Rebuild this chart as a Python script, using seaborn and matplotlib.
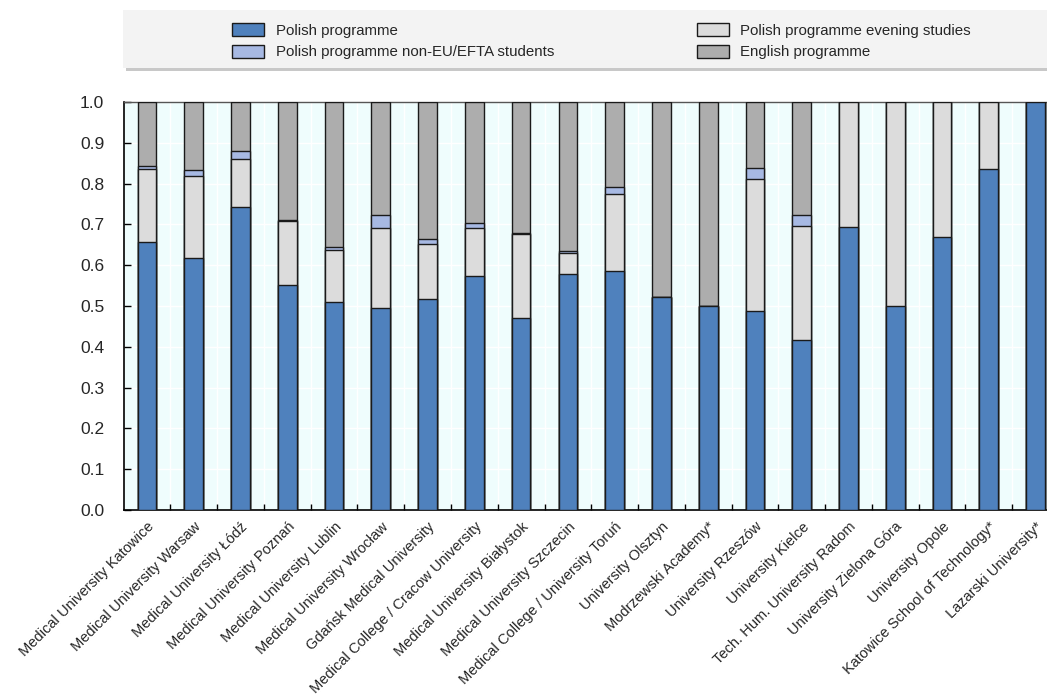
import numpy as np
import pandas as pd
import seaborn as sns
import matplotlib.pyplot as plt
from matplotlib.patches import Patch, Rectangle

universities = ['Medical University Katowice', 'Medical University Warsaw', 'Medical University Łódź',
                'Medical University Poznań', 'Medical University Lublin', 'Medical University Wrocław',
                'Gdańsk Medical University', 'Medical College / Cracow University',
                'Medical University Białystok', 'Medical University Szczecin',
                'Medical College / University Toruń', 'University Olsztyn', 'Modrzewski Academy*',
                'University Rzeszów', 'University Kielce', 'Tech. Hum. University Radom',
                'University Zielona Góra', 'University Opole', 'Katowice School of Technology*',
                'Lazarski University*']
polish = [0.656, 0.617, 0.743, 0.551, 0.510, 0.495, 0.517, 0.574, 0.470, 0.578,
          0.587, 0.522, 0.500, 0.488, 0.417, 0.694, 0.500, 0.668, 0.835, 1.0]
evening = [0.180, 0.202, 0.117, 0.157, 0.127, 0.197, 0.135, 0.116, 0.206, 0.051,
           0.188, 0.0, 0.0, 0.323, 0.279, 0.306, 0.500, 0.332, 0.165, 0.0]
non_eu = [0.008, 0.014, 0.019, 0.002, 0.008, 0.030, 0.012, 0.014, 0.004, 0.007,
          0.016, 0.0, 0.0, 0.028, 0.027, 0.0, 0.0, 0.0, 0.0, 0.0]
english = [0.156, 0.167, 0.121, 0.290, 0.355, 0.278, 0.336, 0.296, 0.320, 0.364,
           0.209, 0.478, 0.500, 0.161, 0.277, 0.0, 0.0, 0.0, 0.0, 0.0]

series = ['Polish programme', 'Polish programme non-EU/EFTA students',
          'Polish programme evening studies', 'English programme']
colors = {'Polish programme': '#4f81bd',
          'Polish programme non-EU/EFTA students': '#a7b9e3',
          'Polish programme evening studies': '#dcdcdc',
          'English programme': '#adadad'}

df = pd.DataFrame({'uni': universities, 'Polish programme': polish,
                   'Polish programme evening studies': evening,
                   'Polish programme non-EU/EFTA students': non_eu,
                   'English programme': english})
# stacking order bottom -> top
stack = ['Polish programme', 'Polish programme evening studies',
         'Polish programme non-EU/EFTA students', 'English programme']
cum = df[stack].cumsum(axis=1)

sns.set_theme(style='white')
plt.rcParams['font.family'] = ['Liberation Sans', 'DejaVu Sans']

fig = plt.figure(figsize=(10.47, 6.94), dpi=100)
ax = fig.add_axes([123.6 / 1047, 1 - 510 / 694, (1059 - 123.6) / 1047, 408 / 694])
ax.set_facecolor('#effdfd')

for name in stack[::-1]:
    sns.barplot(x=df['uni'], y=cum[name], color=colors[name], saturation=1, width=0.4,
                edgecolor='#1a1a1a', linewidth=1, ax=ax, zorder=3)

ax.set_xlim(-0.5, 19.5)
ax.set_ylim(0, 1)
ax.set_yticks(np.arange(0, 1.01, 0.1))
ax.set_yticklabels([f'{v:.1f}' for v in np.arange(0, 1.01, 0.1)], fontsize=12.5)
ax.set_xticks(range(len(universities)))
ax.set_xticklabels(universities, rotation=45, ha='right', rotation_mode='anchor', fontsize=10.5)
ax.set_xticks(np.arange(0.5, 19.5, 1), minor=True)
ax.tick_params(axis='x', which='major', length=0, pad=7)
ax.tick_params(axis='x', which='minor', direction='in', length=4, width=1, color='black', bottom=True)
ax.tick_params(axis='y', direction='in', length=5, width=1, color='black', left=True, pad=14)
ax.set_xlabel('')
ax.set_ylabel('')

ax.yaxis.grid(True, color='white', lw=1)
ax.xaxis.grid(True, which='minor', color='white', lw=1)
ax.set_axisbelow(True)
for s in ['left', 'bottom']:
    ax.spines[s].set_color('black')
    ax.spines[s].set_linewidth(1.2)
ax.spines['top'].set_color('#555555')
ax.spines['top'].set_linewidth(1)
ax.spines['right'].set_visible(False)

# legend box
fig.patches.append(Rectangle((126 / 1047, 1 - 71 / 694), 924 / 1047, 58 / 694,
                             transform=fig.transFigure, facecolor='#c8c8c8',
                             edgecolor='none', zorder=0))
fig.patches.append(Rectangle((123 / 1047, 1 - 68 / 694), 924 / 1047, 58 / 694,
                             transform=fig.transFigure, facecolor='#f3f3f3',
                             edgecolor='none', zorder=1))

handles = [Patch(facecolor=colors[s], edgecolor='#1a1a1a', label=s) for s in series]
for hs, x in [(handles[:2], 232), (handles[2:], 697)]:
    fig.legend(handles=hs, loc='upper left', bbox_to_anchor=(x / 1047, 1 - 23 / 694),
               frameon=False, fontsize=10.8, handlelength=2.1, handleheight=1.0,
               labelspacing=0.45, borderpad=0, borderaxespad=0, handletextpad=0.8)

fig.savefig('out.png', dpi=100)
